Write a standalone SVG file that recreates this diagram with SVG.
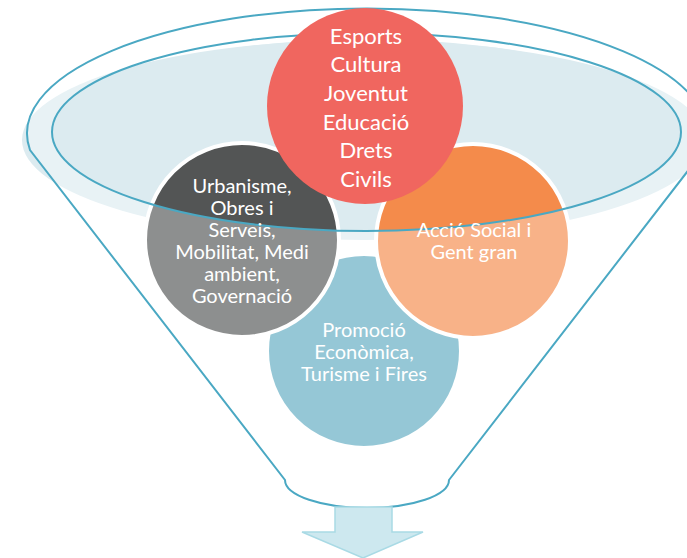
<svg xmlns="http://www.w3.org/2000/svg" width="687" height="558" viewBox="0 0 687 558">
<style>
.rim{fill:none;stroke:#4aa8c3;stroke-width:2}
.lbl{font-family:Lato,"Liberation Sans",sans-serif;fill:#ffffff;text-anchor:middle}
.s20{font-size:20px}
.s22{font-size:22px}
.circ{stroke:#ffffff;stroke-width:4}
</style>
<rect width="687" height="558" fill="#ffffff"/>
<g id="funnel-back">
  <ellipse cx="364" cy="140" rx="342" ry="100" fill="#dcebf0"/>
  <ellipse cx="366" cy="138" rx="316" ry="99" fill="#dcebf0"/>
</g>
<g id="node-blue">
  <circle class="circ" cx="364" cy="351" r="97" fill="#5fabc1"/>
</g>
<g id="node-gray">
  <circle class="circ" cx="242" cy="240" r="97" fill="#535555"/>
</g>
<g id="node-orange">
  <circle class="circ" cx="473" cy="241" r="97" fill="#f48b4b"/>
</g>
<g id="funnel-front">
  <path fill="#ffffff" fill-opacity="0.34" fill-rule="evenodd" d="M30,150 A340,125 0 1 1 704,150 L449,480 A82,28 0 0 1 285,480 Z M52,132 A314.5,99 0 1 0 681,132 A314.5,99 0 1 0 52,132 Z"/>
</g>
<g id="connectors">
  <path class="rim" d="M30,150 A340,125 0 1 1 704,150 L449,480 A82,28 0 0 1 285,480 Z"/>
  <ellipse class="rim" cx="366.5" cy="132" rx="314.5" ry="99"/>
  <path d="M335,507 L392,507 L392,532 L423,532 L363,558 L302,532 L335,532 Z" fill="#cde8ef" stroke="#a9dae5" stroke-width="1.5"/>
</g>
<g id="node-red">
  <circle cx="365" cy="106" r="98" fill="#f0665f"/>
  <text class="lbl s22" x="366" y="43.5">Esports</text>
  <text class="lbl s22" x="366" y="72">Cultura</text>
  <text class="lbl s22" x="366" y="100.5">Joventut</text>
  <text class="lbl s22" x="366" y="129.5">Educació</text>
  <text class="lbl s22" x="366" y="158">Drets</text>
  <text class="lbl s22" x="366" y="186.5">Civils</text>
</g>
<g id="label-gray">
  <text class="lbl s20" x="242" y="192.5">Urbanisme,</text>
  <text class="lbl s20" x="242" y="214.5">Obres i</text>
  <text class="lbl s20" x="242" y="236.5">Serveis,</text>
  <text class="lbl s20" x="242" y="258.5">Mobilitat, Medi</text>
  <text class="lbl s20" x="242" y="280.5">ambient,</text>
  <text class="lbl s20" x="242" y="302.5">Governació</text>
</g>
<g id="label-orange">
  <text class="lbl s20" x="474" y="236.5">Acció Social i</text>
  <text class="lbl s20" x="474" y="258.5">Gent gran</text>
</g>
<g id="label-blue">
  <text class="lbl s20" x="364" y="336.5">Promoció</text>
  <text class="lbl s20" x="364" y="358.5">Econòmica,</text>
  <text class="lbl s20" x="364" y="380.5">Turisme i Fires</text>
</g>
</svg>
